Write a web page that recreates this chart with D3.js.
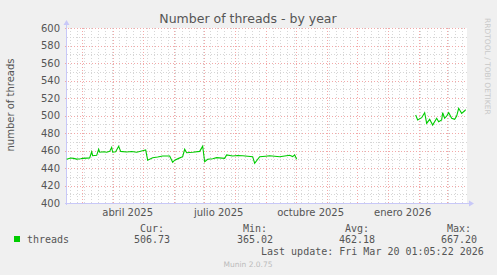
<!DOCTYPE html>
<html>
<head>
<meta charset="utf-8">
<script src="https://cdn.jsdelivr.net/npm/d3@7"></script>
<style>
  body { margin: 0; background: #f0f0f0; }
  svg { display: block; }
  text { font-family: "DejaVu Sans", sans-serif; }
  .mono { font-family: "DejaVu Sans Mono", monospace; }
</style>
</head>
<body>
<script>
// ---------------------------- DATA ----------------------------//
const earlyDates = ["2025-02-14","2025-02-18","2025-02-21","2025-02-24","2025-02-28","2025-03-02","2025-03-06",
  "2025-03-09","2025-03-11","2025-03-12","2025-03-16","2025-03-18","2025-03-19","2025-03-23","2025-03-26",
  "2025-03-29","2025-03-31","2025-04-01","2025-04-04","2025-04-07","2025-04-09","2025-04-15","2025-04-20",
  "2025-04-25","2025-04-30","2025-05-04","2025-05-06","2025-05-11","2025-05-16","2025-05-21","2025-05-28",
  "2025-05-31","2025-06-02","2025-06-06","2025-06-10","2025-06-12","2025-06-14","2025-06-20","2025-06-27",
  "2025-06-30","2025-07-02","2025-07-05","2025-07-10","2025-07-14","2025-07-22","2025-07-24","2025-07-30",
  "2025-08-04","2025-08-09","2025-08-14","2025-08-19","2025-08-21","2025-08-26","2025-09-01","2025-09-05",
  "2025-09-10","2025-09-15","2025-09-20","2025-09-25","2025-09-28","2025-09-30","2025-10-02"];
const earlyThreads = [450,451.5,451,450.2,450.5,451,451.3,
  451.4,458.6,454,454.5,461.4,458,458.5,458,
  459,463.6,458,458.5,464.8,459,458.3,458.8,
  458,459.4,460.6,449,451.8,452.5,453.7,453.7,
  446.5,449,451,452.9,461.4,457.5,458,459,
  465,447.2,450,450.5,451.8,451,454.9,453.7,
  454.2,454,453.5,452.9,445.4,452.9,453.5,454,
  453.4,452.9,453.8,454.5,453,455,450];
const lateDates = ["2026-01-29","2026-01-31","2026-02-04","2026-02-07","2026-02-09","2026-02-12","2026-02-15",
  "2026-02-19","2026-02-21","2026-02-24","2026-02-25","2026-02-27","2026-03-01","2026-03-03","2026-03-06",
  "2026-03-09","2026-03-11","2026-03-13","2026-03-16","2026-03-19","2026-03-20"];
const lateThreads = [500.6,494.9,497.5,503.2,491,495.6,489.1,
  496.8,492.9,494.9,503.2,496.8,499.4,503.2,496.8,
  495.6,499.4,508.2,502.5,505.4,506.7];

const yTicks = [400,420,440,460,480,500,520,540,560,580,600];
const monthNames = ["enero","febrero","marzo","abril","mayo","junio","julio","agosto","septiembre","octubre","noviembre","diciembre"];
const labelMonths = ["2025-04-01","2025-07-01","2025-10-01","2026-01-01"];

const legendHeads = ["Cur:","Min:","Avg:","Max:"];
const legendValues = ["506.73","365.02","462.18","667.20"];
const lastUpdate = "Last update: Fri Mar 20 01:05:22 2026";

// ---------------------------- SETUP ----------------------------//
const W = 497, H = 275;
const plotLeft = 67, plotRight = 467, plotTop = 28, plotBottom = 203;
const parse = d3.utcParse("%Y-%m-%d");

const svg = d3.select("body").append("svg").attr("width", W).attr("height", H);

svg.append("rect").attr("width", W).attr("height", H).attr("fill", "#f0f0f0");

const x = d3.scaleUtc()
  .domain([Date.UTC(2025,1,14,8), Date.UTC(2026,2,21,8)])
  .range([plotLeft, plotRight]);
const y = d3.scaleLinear().domain([400, 600]).range([plotBottom, plotTop]);

// plot background
svg.append("rect").attr("x", plotLeft).attr("y", plotTop)
  .attr("width", plotRight - plotLeft).attr("height", plotBottom - plotTop)
  .attr("fill", "#ffffff");

// ---------------------------- GRID ----------------------------//
const minorGrid = "#d6d6d6", majorGrid = "#f3a8a8";
const minorY = d3.range(410, 600, 20);
svg.append("g").selectAll("line").data(minorY).enter().append("line")
  .attr("x1", plotLeft).attr("x2", plotRight)
  .attr("y1", d => Math.round(y(d)) + 0.5).attr("y2", d => Math.round(y(d)) + 0.5)
  .attr("stroke", minorGrid).attr("stroke-dasharray", "1,2");

const weeks = d3.utcMonday.range(x.domain()[0], x.domain()[1]);
svg.append("g").selectAll("line").data(weeks).enter().append("line")
  .attr("x1", d => Math.round(x(d)) + 0.5).attr("x2", d => Math.round(x(d)) + 0.5)
  .attr("y1", plotTop).attr("y2", plotBottom)
  .attr("stroke", minorGrid).attr("stroke-dasharray", "1,2");

svg.append("g").selectAll("line").data(yTicks).enter().append("line")
  .attr("x1", plotLeft - 2).attr("x2", plotRight)
  .attr("y1", d => Math.round(y(d)) + 0.5).attr("y2", d => Math.round(y(d)) + 0.5)
  .attr("stroke", majorGrid).attr("stroke-dasharray", "1,2");

const months = d3.utcMonth.range(x.domain()[0], x.domain()[1]);
svg.append("g").selectAll("line").data(months).enter().append("line")
  .attr("x1", d => Math.round(x(d)) + 0.5).attr("x2", d => Math.round(x(d)) + 0.5)
  .attr("y1", plotTop).attr("y2", plotBottom + 2)
  .attr("stroke", majorGrid).attr("stroke-dasharray", "1,2");

// ---------------------------- AXES ----------------------------//
const axisColor = "#c8c8f8";
svg.append("line").attr("x1", plotLeft - 0.5).attr("x2", plotLeft - 0.5)
  .attr("y1", plotTop - 4).attr("y2", plotBottom + 2)
  .attr("stroke", axisColor);
svg.append("line").attr("x1", plotLeft - 2).attr("x2", plotRight + 2)
  .attr("y1", plotBottom + 0.5).attr("y2", plotBottom + 0.5)
  .attr("stroke", axisColor);
svg.append("path").attr("d", `M${plotLeft - 3.5},${plotTop - 3} L${plotLeft + 2.5},${plotTop - 3} L${plotLeft - 0.5},${plotTop - 8} Z`)
  .attr("fill", axisColor);
svg.append("path").attr("d", `M${plotRight + 2},${plotBottom - 2.5} L${plotRight + 2},${plotBottom + 3.5} L${plotRight + 7},${plotBottom + 0.5} Z`)
  .attr("fill", axisColor);

svg.append("g").selectAll("text").data(yTicks).enter().append("text")
  .attr("x", 60).attr("y", d => y(d) + 3.5)
  .attr("text-anchor", "end").attr("font-size", 10).attr("fill", "#555")
  .text(d => d);

svg.append("g").selectAll("text").data(labelMonths.map(parse)).enter().append("text")
  .attr("x", d => x(d3.utcDay.offset(d, 15)))
  .attr("y", 216)
  .attr("text-anchor", "middle").attr("font-size", 10).attr("fill", "#555")
  .text(d => monthNames[d.getUTCMonth()] + " " + d.getUTCFullYear());

// ---------------------------- LINE ----------------------------//
const line = d3.line().x(d => x(d.date)).y(d => y(d.value));
const segments = [
  earlyDates.map((d, i) => ({ date: parse(d), value: earlyThreads[i] })),
  lateDates.map((d, i) => ({ date: parse(d), value: lateThreads[i] }))
];
svg.append("g").selectAll("path").data(segments).enter().append("path")
  .attr("d", line).attr("fill", "none").attr("stroke", "#00cc00").attr("stroke-width", 1.1);

// ---------------------------- TEXTS ----------------------------//
svg.append("text").attr("x", 248).attr("y", 23).attr("text-anchor", "middle")
  .attr("font-size", 12.5).attr("fill", "#555").text("Number of threads - by year");

svg.append("text").attr("transform", "translate(14,105) rotate(-90)").attr("text-anchor", "middle")
  .attr("font-size", 10).attr("fill", "#555").text("number of threads");

svg.append("text").attr("transform", "translate(485,18) rotate(90)")
  .attr("font-size", 7.5).attr("fill", "#c8c8c8").text("RRDTOOL / TOBI OETIKER");

// legend
svg.append("rect").attr("x", 14).attr("y", 236).attr("width", 6).attr("height", 6).attr("fill", "#00cc00");
svg.append("text").attr("class", "mono").attr("x", 27).attr("y", 243)
  .attr("font-size", 10).attr("fill", "#555").text("threads");

const headX = [140, 243, 345, 447];
const valX = [134, 237, 339, 441];
svg.append("g").selectAll("text").data(legendHeads).enter().append("text")
  .attr("class", "mono").attr("x", (d, i) => headX[i]).attr("y", 232)
  .attr("font-size", 10).attr("fill", "#555").text(d => d);
svg.append("g").selectAll("text").data(legendValues).enter().append("text")
  .attr("class", "mono").attr("x", (d, i) => valX[i]).attr("y", 243)
  .attr("font-size", 10).attr("fill", "#555").text(d => d);

svg.append("text").attr("class", "mono").attr("x", 261).attr("y", 255)
  .attr("font-size", 10).attr("fill", "#555").text(lastUpdate);

svg.append("text").attr("x", 248).attr("y", 267).attr("text-anchor", "middle")
  .attr("font-size", 7.5).attr("fill", "#bbbbbb").text("Munin 2.0.75");
</script>
</body>
</html>
